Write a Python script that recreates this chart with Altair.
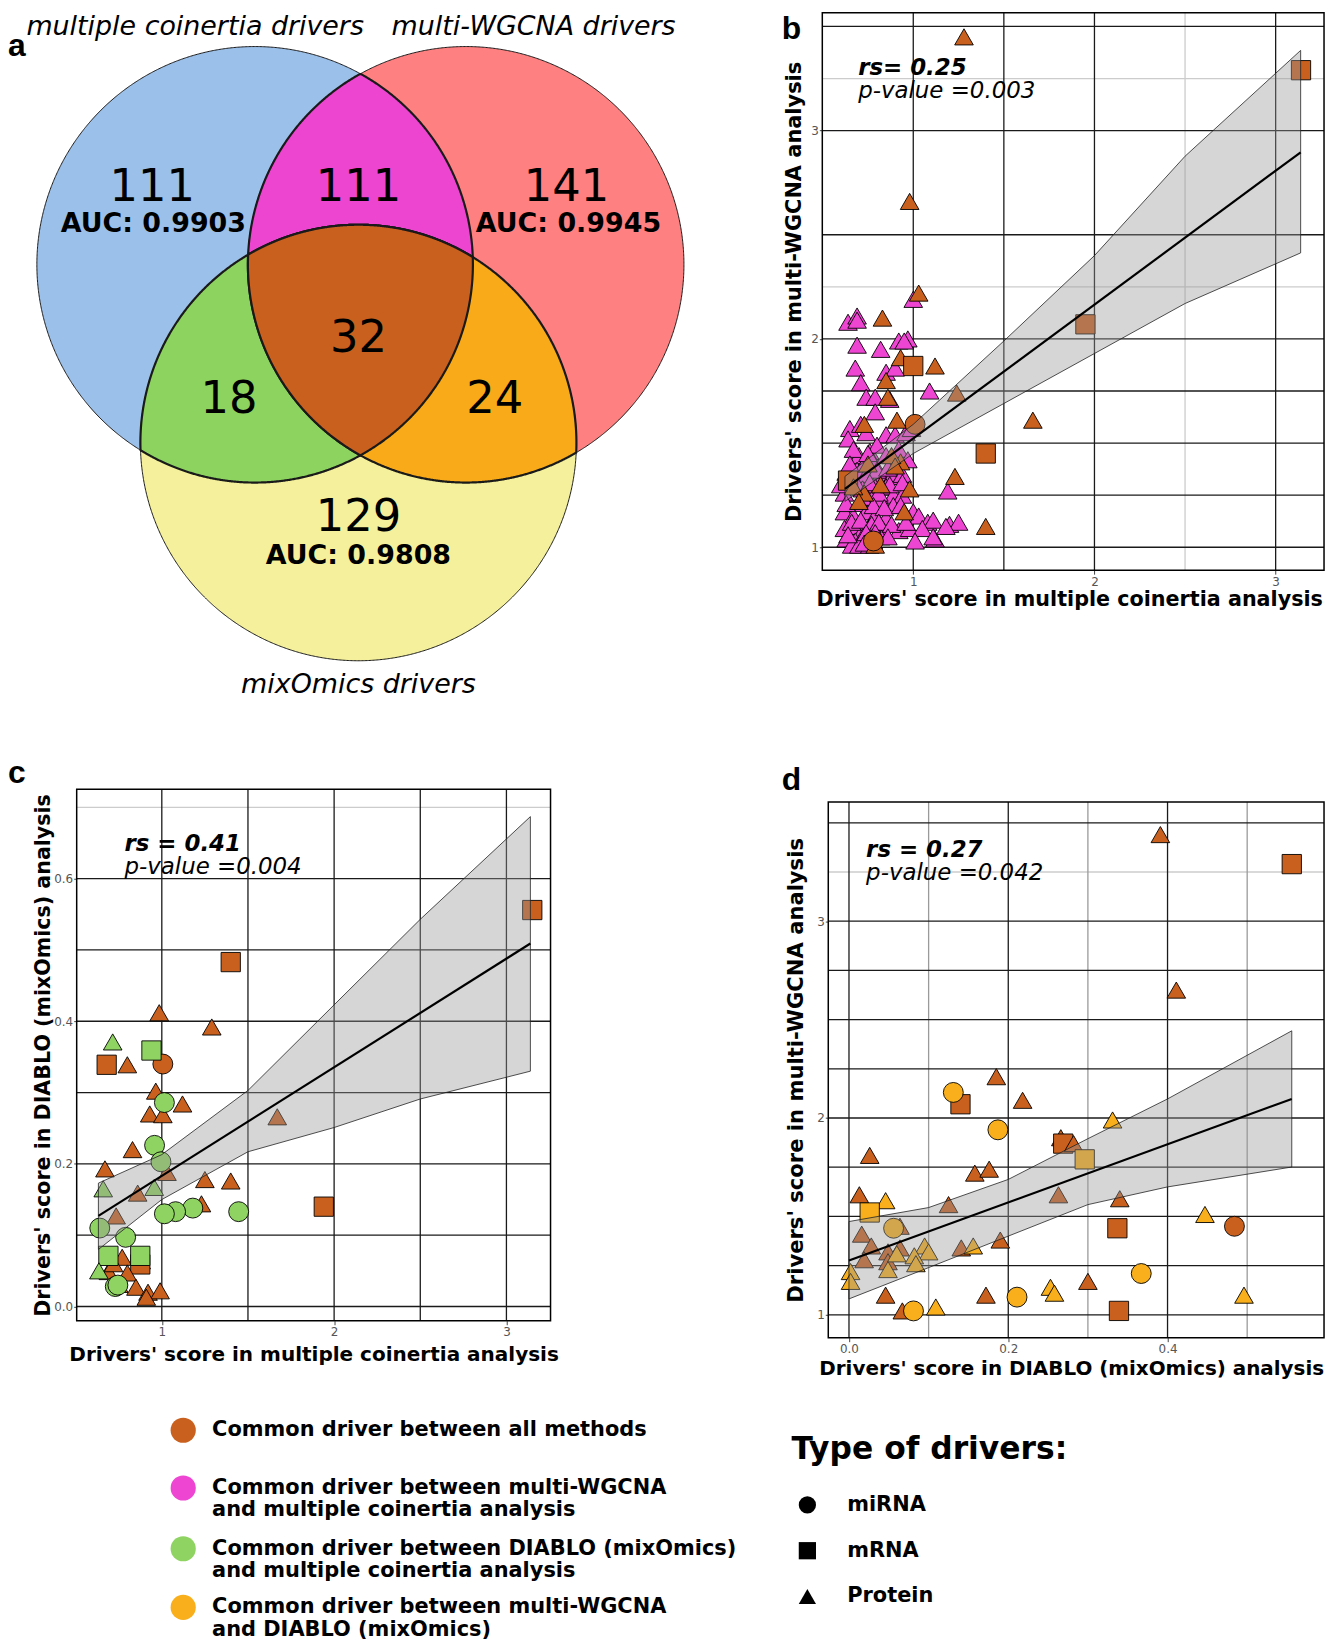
import altair as alt
import numpy as np
import pandas as pd

FONT = "DejaVu Sans"
LABEL_FONT = "Liberation Sans"

# ---------------- categories ----------------
group_keys = ["all", "wgcna_coin", "diablo_coin", "wgcna_diablo"]
group_colors = ["#C9601E", "#EE46D2", "#8FD462", "#F8AF1B"]
group_legend_lines = [
    ["Common driver between all methods"],
    ["Common driver between multi-WGCNA", "and multiple coinertia analysis"],
    ["Common driver between DIABLO (mixOmics)", "and multiple coinertia analysis"],
    ["Common driver between multi-WGCNA", "and DIABLO (mixOmics)"],
]
type_names = ["miRNA", "mRNA", "Protein"]
type_codes = {"c": "miRNA", "s": "mRNA", "t": "Protein"}
type_shapes = ["circle", "square", "triangle-up"]
type_sizes = [400, 350, 580]
legend_title = "Type of drivers:"

# ---------------- Venn data ----------------
venn_set_names = ["multiple coinertia drivers", "multi-WGCNA drivers", "mixOmics drivers"]
venn_region_counts = [111, 111, 141, 18, 32, 24, 129]
venn_auc = ["AUC: 0.9903", "AUC: 0.9945", "AUC: 0.9808"]
venn_fill = ["#9BC0E9", "#FF8080", "#F4F09B", "#EE45D0", "#8DD35F", "#F8AA19", "#C9601E"]

# ---------------- panel b: coinertia (x) vs multi-WGCNA (y) ----------------
b_all_x = [1.03, 0.83, 0.93, 1.00, 1.12, 0.85, 0.86, 1.24, 0.91, 1.01, 1.66, 1.40, 0.93, 0.88, 1.23, 0.98,
           1.40, 0.73, 0.64, 0.67, 0.95, 0.79, 0.73, 1.28, 3.14, 0.98, 1.95, 0.78, 0.70, 0.90, 0.82, 0.75]
b_all_y = [2.22, 2.10, 1.91, 1.87, 1.87, 1.80, 1.72, 1.74, 1.61, 1.59, 1.61, 1.45, 1.41, 1.44, 1.34, 1.28,
           1.10, 1.26, 1.32, 1.29, 1.17, 1.01, 1.59, 3.45, 3.29, 2.66, 2.07, 1.03, 1.22, 1.39, 1.30, 1.40]
b_all_t = list("tttstttttctsttttttstttttstsctttt")
b_mag_x = [0.64, 0.69, 0.69, 0.69, 0.82, 0.92, 0.97, 0.95, 1.00, 0.68, 0.85, 0.90, 0.71, 1.09, 0.74, 0.79,
           0.87, 0.79, 0.65, 0.71, 0.74, 0.85, 0.90, 0.96, 0.99, 0.76, 0.80, 0.70, 0.78, 0.85, 0.90, 0.63,
           0.69, 0.74, 0.83, 0.88, 0.94, 0.67, 0.79, 0.72, 0.85, 0.62, 0.89, 0.94, 0.77, 0.82, 0.70, 0.89,
           0.62, 0.67, 0.74, 0.79, 0.85, 1.00, 1.03, 1.08, 1.11, 1.20, 1.25, 0.62, 0.67, 0.72, 0.76, 0.83,
           0.92, 0.98, 1.05, 0.63, 0.68, 0.72, 0.78, 0.82, 1.01, 1.12, 0.66, 0.70, 0.76,
           0.64, 0.67, 0.73, 0.75, 0.80, 0.86, 0.92, 0.97, 0.65, 0.69, 0.76, 0.81, 0.87, 0.94, 0.63, 0.72,
           0.78, 0.84, 0.93, 0.66, 0.71, 0.77, 0.81, 0.88, 0.96, 0.64, 0.74, 0.79, 0.86, 0.73, 1.19, 1.11,
           1.18, 0.60]
b_mag_y = [2.08, 2.11, 2.09, 1.97, 1.95, 1.99, 2.00, 1.99, 2.19, 1.86, 1.84, 1.86, 1.79, 1.75, 1.72, 1.72,
           1.71, 1.65, 1.57, 1.59, 1.55, 1.54, 1.54, 1.55, 1.57, 1.46, 1.49, 1.44, 1.41, 1.44, 1.41, 1.36,
           1.37, 1.35, 1.34, 1.34, 1.35, 1.31, 1.29, 1.28, 1.29, 1.26, 1.25, 1.25, 1.23, 1.23, 1.21, 1.20,
           1.17, 1.15, 1.17, 1.15, 1.14, 1.17, 1.15, 1.12, 1.13, 1.11, 1.12, 1.09, 1.10, 1.08, 1.10, 1.09,
           1.08, 1.09, 1.09, 1.04, 1.03, 1.05, 1.03, 1.05, 1.03, 1.04, 1.01, 1.01, 1.01,
           1.52, 1.47, 1.40, 1.45, 1.37, 1.38, 1.47, 1.42, 1.40, 1.30, 1.31, 1.26, 1.30, 1.31, 1.21, 1.24,
           1.20, 1.19, 1.20, 1.12, 1.13, 1.11, 1.12, 1.11, 1.12, 1.06, 1.07, 1.07, 1.05, 1.02, 1.27, 1.05,
           1.10, 1.30]
b_fit_x = [0.623, 3.138]
b_fit_y = [1.28, 2.896]
b_band_x = [0.623, 1.0, 1.5, 2.0, 2.5, 3.138]
b_band_lo = [1.22, 1.45, 1.69, 1.93, 2.17, 2.413]
b_band_hi = [1.34, 1.59, 1.99, 2.40, 2.877, 3.385]

# ---------------- panel c: coinertia (x) vs DIABLO (y) ----------------
c_all_x = [1.40, 0.985, 1.29, 0.68, 0.80, 1.006, 0.965, 1.12, 0.93, 1.006, 0.83, 0.67, 1.03, 1.25, 1.40, 0.86,
           1.23, 0.735, 0.77, 0.88, 0.875, 0.69, 0.80, 0.75, 0.85, 0.92, 0.99, 0.91, 1.67, 1.94, 3.15, 0.72]
c_all_y = [0.483, 0.412, 0.392, 0.339, 0.339, 0.340, 0.302, 0.284, 0.270, 0.269, 0.220, 0.193, 0.188, 0.178,
           0.176, 0.159, 0.144, 0.127, 0.069, 0.064, 0.059, 0.049, 0.047, 0.031, 0.027, 0.020, 0.022, 0.013,
           0.266, 0.140, 0.556, 0.060]
c_all_t = list("sttstcttttttttttttttsttttttttsst")
c_grn_x = [0.715, 0.94, 1.015, 0.958, 0.995, 0.66, 0.956, 1.18, 1.08, 1.015, 1.446, 0.64, 0.79, 0.69, 0.875,
           0.635, 0.73, 0.745]
c_grn_y = [0.371, 0.359, 0.286, 0.226, 0.203, 0.165, 0.167, 0.138, 0.133, 0.130, 0.133, 0.110, 0.097, 0.071,
           0.071, 0.050, 0.028, 0.030]
c_grn_t = list("tscccttccccccsstcc")
c_fit_x = [0.632, 3.139]
c_fit_y = [0.127, 0.509]
c_band_x = [0.632, 1.0, 1.5, 2.0, 2.5, 3.139]
c_band_lo = [0.080, 0.150, 0.217, 0.251, 0.291, 0.330]
c_band_hi = [0.173, 0.213, 0.303, 0.423, 0.543, 0.687]

# ---------------- panel d: DIABLO (x) vs multi-WGCNA (y) ----------------
d_all_x = [0.391, 0.556, 0.411, 0.185, 0.14, 0.218, 0.266, 0.269, 0.282, 0.026, 0.158, 0.176, 0.013, 0.125,
           0.263, 0.34, 0.484, 0.337, 0.064, 0.016, 0.028, 0.064, 0.049, 0.141, 0.19, 0.019, 0.049, 0.30,
           0.046, 0.172, 0.067, 0.339]
d_all_y = [3.44, 3.29, 2.65, 2.21, 2.07, 2.09, 1.90, 1.87, 1.87, 1.81, 1.72, 1.74, 1.61, 1.56, 1.61, 1.59,
           1.45, 1.44, 1.45, 1.41, 1.35, 1.34, 1.32, 1.34, 1.38, 1.28, 1.27, 1.17, 1.10, 1.10, 1.02, 1.02]
d_all_t = list("tsttsttsttttttttcsttttttttttttts")
d_org_x = [0.131, 0.331, 0.187, 0.296, 0.046, 0.026, 0.447, 0.056, 0.095, 0.10, 0.06, 0.082, 0.156, 0.049,
           0.084, 0.002, 0.002, 0.367, 0.253, 0.258, 0.211, 0.496, 0.081, 0.109]
d_org_y = [2.13, 1.99, 1.94, 1.79, 1.58, 1.52, 1.51, 1.44, 1.35, 1.32, 1.31, 1.30, 1.35, 1.23, 1.26, 1.22,
           1.17, 1.21, 1.14, 1.11, 1.09, 1.10, 1.02, 1.04]
d_org_t = list("ctcststctttttttttcttctct")
d_fit_x = [0.0, 0.556]
d_fit_y = [1.276, 2.097]
d_band_x = [0.0, 0.1, 0.2, 0.3, 0.4, 0.556]
d_band_lo = [1.081, 1.24, 1.40, 1.56, 1.65, 1.751]
d_band_hi = [1.474, 1.545, 1.688, 1.895, 2.097, 2.443]

stats_rs = ["rs= 0.25", "rs = 0.41", "rs = 0.27"]
stats_p = ["p-value =0.003", "p-value =0.004", "p-value =0.042"]
axis_title_coin = "Drivers' score in multiple coinertia analysis"
axis_title_wgcna = "Drivers' score in multi-WGCNA analysis"
axis_title_diablo = "Drivers' score in DIABLO (mixOmics) analysis"

# ---------------- layout (page pixels; chart origin is page (8, 8)) ----------------
VENN_W, VENN_H = 818, 780
circ_cx = [256, 468, 360]
circ_cy = [261, 261, 440]
circ_r = [219, 219, 219]
count_pos = [(153, 183), (360, 183), (569, 183), (230, 396), (360, 335), (497, 396), (360, 515)]
auc_pos = [(154, 220), (571, 220), (360, 554)]
set_title_pos = [(196, 22), (536, 22), (360, 683)]

COL_W = [69, 476, 279, 498]      # grid column widths
ROW_H = [780, 551, 305]          # grid row heights


def pts(xs, ys, ts, group):
    return pd.DataFrame({"x": xs, "y": ys, "type": [type_codes[t] for t in ts], "group": group})


# ================= Venn (drawn from a small cell, explicit pixel ranges) =================
VX_SCALE = alt.Scale(domain=[8, 8 + VENN_W], range=[0, VENN_W], nice=False, zero=False)
VY_SCALE = alt.Scale(domain=[8, 8 + VENN_H], range=[0, VENN_H], nice=False, zero=False)


def region(members, n=500):
    xmin = max(circ_cx[i] - circ_r[i] for i in members)
    xmax = min(circ_cx[i] + circ_r[i] for i in members)
    t = np.linspace(0, np.pi, n)
    xs = xmin + (xmax - xmin) * (1 - np.cos(t)) / 2
    lo = np.full(n, -np.inf)
    hi = np.full(n, np.inf)
    for i in members:
        d = np.sqrt(np.clip(circ_r[i] ** 2 - (xs - circ_cx[i]) ** 2, 0, None))
        lo = np.maximum(lo, circ_cy[i] - d)
        hi = np.minimum(hi, circ_cy[i] + d)
    keep = hi >= lo
    return pd.DataFrame({"x": xs[keep], "lo": lo[keep], "hi": hi[keep]})


venn_regions = [([0], 1.0), ([1], 1.0), ([2], 1.0), ([0, 1], 2.2), ([0, 2], 2.2), ([1, 2], 2.2), ([0, 1, 2], 2.2)]
venn_layers = []
for (members, sw), fill in zip(venn_regions, venn_fill):
    venn_layers.append(
        alt.Chart(region(members)).mark_area(fill=fill, stroke="#1a1a1a", strokeWidth=sw, opacity=1)
        .encode(x=alt.X("x:Q", scale=VX_SCALE, axis=None),
                y=alt.Y("lo:Q", scale=VY_SCALE, axis=None),
                y2=alt.Y2("hi"))
    )


def vtext(df, **kw):
    return alt.Chart(df).mark_text(font=FONT, color="black", baseline="middle", **kw).encode(
        x=alt.X("x:Q", scale=VX_SCALE, axis=None),
        y=alt.Y("y:Q", scale=VY_SCALE, axis=None),
        text="t:N")


counts_df = pd.DataFrame({"x": [p[0] for p in count_pos], "y": [p[1] for p in count_pos],
                          "t": [str(c) for c in venn_region_counts]})
auc_df = pd.DataFrame({"x": [p[0] for p in auc_pos], "y": [p[1] for p in auc_pos], "t": venn_auc})
sets_df = pd.DataFrame({"x": [p[0] for p in set_title_pos], "y": [p[1] for p in set_title_pos],
                        "t": venn_set_names})
label_a = pd.DataFrame({"x": [8], "y": [42], "t": ["a"]})

venn_layers += [
    vtext(counts_df, fontSize=45),
    vtext(auc_df, fontSize=27, fontWeight="bold"),
    vtext(sets_df, fontSize=27, fontStyle="italic"),
    alt.Chart(label_a).mark_text(font=LABEL_FONT, fontSize=32, fontWeight="bold", align="left",
                                 baseline="middle", color="black").encode(
        x=alt.X("x:Q", scale=VX_SCALE, axis=None), y=alt.Y("y:Q", scale=VY_SCALE, axis=None), text="t:N"),
]
venn = alt.layer(*venn_layers).properties(width=COL_W[0], height=ROW_H[0])


# ================= scatter panels =================
def scatter_panel(points, s):
    x0, y0, w, h = s["x0"], s["y0"], s["w"], s["h"]      # frame rectangle inside the cell
    xs = alt.Scale(domain=s["xdom"], range=[x0, x0 + w], nice=False, zero=False)
    ys = alt.Scale(domain=s["ydom"], range=[y0 + h, y0], nice=False, zero=False)
    xaxis = alt.Axis(values=s["xticks"], format=s["xfmt"], grid=False, domain=False, tickSize=4,
                     tickColor="#444", labelColor="#555", labelFont=FONT, labelFontSize=12, labelPadding=2,
                     title=s["xtitle"], titleFont=FONT, titleFontSize=s["xts"], titleFontWeight="bold",
                     titleColor="black", titlePadding=s["xtp"], titleX=s["xtx"])
    yaxis = alt.Axis(values=s["yticks"], format=s["yfmt"], grid=False, domain=False, tickSize=3,
                     tickColor="#444", labelColor="#555", labelFont=FONT, labelFontSize=12, labelPadding=1,
                     title=s["ytitle"], titleFont=FONT, titleFontSize=s["yts"], titleFontWeight="bold",
                     titleColor="black", titlePadding=s["ytp"], offset=-x0)

    def X(f):
        return alt.X(f + ":Q", scale=xs, axis=xaxis)

    def Y(f):
        return alt.Y(f + ":Q", scale=ys, axis=yaxis)

    grid_colors = {"d": "#1a1a1a", "m": "#9a9a9a", "l": "#cccccc"}
    layers = []
    for kind in ["l", "m", "d"]:
        gx = [v for v, k in zip(s["xgrid"], s["xgk"]) if k == kind]
        gy = [v for v, k in zip(s["ygrid"], s["ygk"]) if k == kind]
        if gx:
            layers.append(alt.Chart(pd.DataFrame({"x": gx})).mark_rule(color=grid_colors[kind], strokeWidth=1.3)
                          .encode(x=X("x"), y=alt.value(y0), y2=alt.value(y0 + h)))
        if gy:
            layers.append(alt.Chart(pd.DataFrame({"y": gy})).mark_rule(color=grid_colors[kind], strokeWidth=1.3)
                          .encode(y=Y("y"), x=alt.value(x0), x2=alt.value(x0 + w)))
    layers.append(
        alt.Chart(points).mark_point(filled=True, opacity=1, stroke="black", strokeWidth=0.9).encode(
            x=X("x"), y=Y("y"),
            color=alt.Color("group:N", scale=alt.Scale(domain=group_keys, range=group_colors), legend=None),
            shape=alt.Shape("type:N", scale=alt.Scale(domain=type_names, range=type_shapes), legend=None),
            size=alt.Size("type:N", scale=alt.Scale(domain=type_names, range=type_sizes), legend=None),
        )
    )
    band = pd.DataFrame({"x": s["band_x"], "lo": s["band_lo"], "hi": s["band_hi"]})
    layers.append(alt.Chart(band).mark_area(fill="#999999", fillOpacity=0.4, stroke="#222222", strokeWidth=0.8)
                  .encode(x=X("x"), y=Y("lo"), y2=alt.Y2("hi")))
    fit = pd.DataFrame({"x": s["fit_x"], "y": s["fit_y"]})
    layers.append(alt.Chart(fit).mark_line(color="black", strokeWidth=2.2).encode(x=X("x"), y=Y("y")))
    # plot frame
    layers.append(alt.Chart(pd.DataFrame({"f": [0]})).mark_rect(fillOpacity=0, stroke="black", strokeWidth=1.5)
                  .encode(x=alt.value(x0), x2=alt.value(x0 + w), y=alt.value(y0), y2=alt.value(y0 + h)))
    ax, ay1, ay2 = s["ann"]
    layers.append(alt.Chart(pd.DataFrame({"t": [s["rs"]]})).mark_text(
        font=FONT, fontSize=23, fontStyle="italic", fontWeight="bold", align="left", baseline="middle",
        color="black").encode(x=alt.value(x0 + ax), y=alt.value(y0 + ay1), text="t:N"))
    layers.append(alt.Chart(pd.DataFrame({"t": [s["p"]]})).mark_text(
        font=FONT, fontSize=23, fontStyle="italic", align="left", baseline="middle",
        color="black").encode(x=alt.value(x0 + ax), y=alt.value(y0 + ay2), text="t:N"))
    lx, ly, lal = s["label_pos"]
    layers.append(alt.Chart(pd.DataFrame({"t": [s["label"]]})).mark_text(
        font=LABEL_FONT, fontSize=32, fontWeight="bold", align=lal, baseline="middle",
        color="black").encode(x=alt.value(x0 + lx), y=alt.value(y0 + ly), text="t:N"))
    return alt.layer(*layers).properties(width=s["cw"], height=s["ch"])


b_points = pd.concat([pts(b_mag_x, b_mag_y, ["t"] * len(b_mag_x), "wgcna_coin"),
                      pts(b_all_x, b_all_y, b_all_t, "all")], ignore_index=True)
c_points = pd.concat([pts(c_all_x, c_all_y, c_all_t, "all"),
                      pts(c_grn_x, c_grn_y, c_grn_t, "diablo_coin")], ignore_index=True)
d_points = pd.concat([pts(d_all_x, d_all_y, d_all_t, "all"),
                      pts(d_org_x, d_org_y, d_org_t, "wgcna_diablo")], ignore_index=True)

panel_b = scatter_panel(b_points, dict(
    x0=-6, y0=0, w=504, h=560, cw=COL_W[3], ch=560,
    xdom=[0.498, 3.267], ydom=[0.89, 3.566],
    xgrid=[1, 1.5, 2, 2.5, 3], xgk="dddld",
    ygrid=[1, 1.25, 1.5, 1.75, 2, 2.25, 2.5, 3, 3.25, 3.5], ygk="dddddlddld",
    xticks=[1, 2, 3], yticks=[1, 2, 3], xfmt=".0f", yfmt=".0f",
    xtitle=axis_title_coin, ytitle=axis_title_wgcna, xts=20.8, xtp=3, xtx=242, yts=21, ytp=6,
    band_x=b_band_x, band_lo=b_band_lo, band_hi=b_band_hi, fit_x=b_fit_x, fit_y=b_fit_y,
    rs=stats_rs[0], p=stats_p[0], ann=(36, 56, 79), label="b", label_pos=(-31, 16, "center")))

panel_c = scatter_panel(c_points, dict(
    x0=0, y0=0, w=476, h=534, cw=COL_W[1], ch=534,
    xdom=[0.506, 3.256], ydom=[-0.020, 0.7255],
    xgrid=[1, 1.5, 2, 2.5, 3], xgk="ddddd",
    ygrid=[0, 0.1, 0.2, 0.3, 0.4, 0.5, 0.6, 0.7], ygk="dddddddl",
    xticks=[1, 2, 3], yticks=[0, 0.2, 0.4, 0.6], xfmt=".0f", yfmt=".1f",
    xtitle=axis_title_coin, ytitle=axis_title_diablo, xts=20.1, xtp=7, xtx=238, yts=20.7, ytp=0,
    band_x=c_band_x, band_lo=c_band_lo, band_hi=c_band_hi, fit_x=c_fit_x, fit_y=c_fit_y,
    rs=stats_rs[1], p=stats_p[1], ann=(48, 55, 78), label="c", label_pos=(-69, -16, "left")))

panel_d = scatter_panel(d_points, dict(
    x0=0, y0=13, w=498, h=538, cw=COL_W[3], ch=551,
    xdom=[-0.026, 0.5965], ydom=[0.884, 3.605],
    xgrid=[0, 0.1, 0.2, 0.3, 0.4, 0.5], xgk="dmdmdm",
    ygrid=[1, 1.25, 1.5, 1.75, 2, 2.25, 2.5, 2.75, 3, 3.25, 3.5], ygk="dddddddddld",
    xticks=[0, 0.2, 0.4], yticks=[1, 2, 3], xfmt=".1f", yfmt=".0f",
    xtitle=axis_title_diablo, ytitle=axis_title_wgcna, xts=20, xtp=3.5, xtx=244, yts=21.2, ytp=10,
    band_x=d_band_x, band_lo=d_band_lo, band_hi=d_band_hi, fit_x=d_fit_x, fit_y=d_fit_y,
    rs=stats_rs[2], p=stats_p[2], ann=(38, 48, 71), label="d", label_pos=(-37, -22, "center")))

# ================= legends (bottom row, drawn from a small cell) =================
LEG_W, LEG_H = 1322, ROW_H[2]
LEG_Y0 = 1339
LX = alt.Scale(domain=[8, 8 + LEG_W], range=[0, LEG_W], nice=False, zero=False)
LY = alt.Scale(domain=[LEG_Y0, LEG_Y0 + LEG_H], range=[0, LEG_H], nice=False, zero=False)
grp_dot_x, grp_text_x = 184, 213
grp_dot_y = [1432, 1490, 1551, 1610]
line_step = 22.5
type_title_pos = (795, 1452)
type_sym_x, type_text_x = 811, 851
type_sym_y = [1507, 1553, 1599]

dots_df = pd.DataFrame({"x": [grp_dot_x] * 4, "y": grp_dot_y, "group": group_keys})
gtext_rows = []
for yy, lines in zip(grp_dot_y, group_legend_lines):
    for i, ln in enumerate(lines):
        gtext_rows.append({"x": grp_text_x, "y": yy + i * line_step, "t": ln})
gtext_df = pd.DataFrame(gtext_rows)
tsym_df = pd.DataFrame({"x": [type_sym_x] * 3, "y": type_sym_y, "type": type_names})
ttext_df = pd.DataFrame({"x": [type_text_x] * 3, "y": type_sym_y, "t": type_names})
ttitle_df = pd.DataFrame({"x": [type_title_pos[0]], "y": [type_title_pos[1]], "t": [legend_title]})


def LXY():
    return dict(x=alt.X("x:Q", scale=LX, axis=None), y=alt.Y("y:Q", scale=LY, axis=None))


legend_chart = alt.layer(
    alt.Chart(dots_df).mark_point(filled=True, opacity=1, shape="circle", size=640).encode(
        color=alt.Color("group:N", scale=alt.Scale(domain=group_keys, range=group_colors), legend=None), **LXY()),
    alt.Chart(gtext_df).mark_text(font=FONT, fontSize=21, fontWeight="bold", align="left", baseline="middle",
                                  color="black").encode(text="t:N", **LXY()),
    alt.Chart(ttitle_df).mark_text(font=FONT, fontSize=31.5, fontWeight="bold", align="left", baseline="middle",
                                   color="black").encode(text="t:N", **LXY()),
    alt.Chart(tsym_df).mark_point(filled=True, opacity=1, color="black", size=300).encode(
        shape=alt.Shape("type:N", scale=alt.Scale(domain=type_names, range=type_shapes), legend=None), **LXY()),
    alt.Chart(ttext_df).mark_text(font=FONT, fontSize=21, fontWeight="bold", align="left", baseline="middle",
                                  color="black").encode(text="t:N", **LXY()),
).properties(width=COL_W[0], height=ROW_H[2])


def spacer(w, h):
    # invisible, zero-sized mark in the middle of the cell (keeps bounds inside the cell)
    return alt.Chart(pd.DataFrame({"v": [0]})).mark_point(opacity=0, size=0, strokeWidth=0).encode(
        x=alt.value(w / 2), y=alt.value(h / 2)).properties(width=w, height=h)


cells = [
    venn, spacer(COL_W[1], 1), spacer(COL_W[2], 1), panel_b,
    spacer(COL_W[0], 1), panel_c, spacer(1, 1), panel_d,
    legend_chart,
]
chart = alt.concat(*cells, columns=4, spacing=0, bounds="flush", align="each").properties(
    padding=0).configure_view(stroke=None)

chart.save("out.html", embed_options={"renderer": "svg", "actions": False})
